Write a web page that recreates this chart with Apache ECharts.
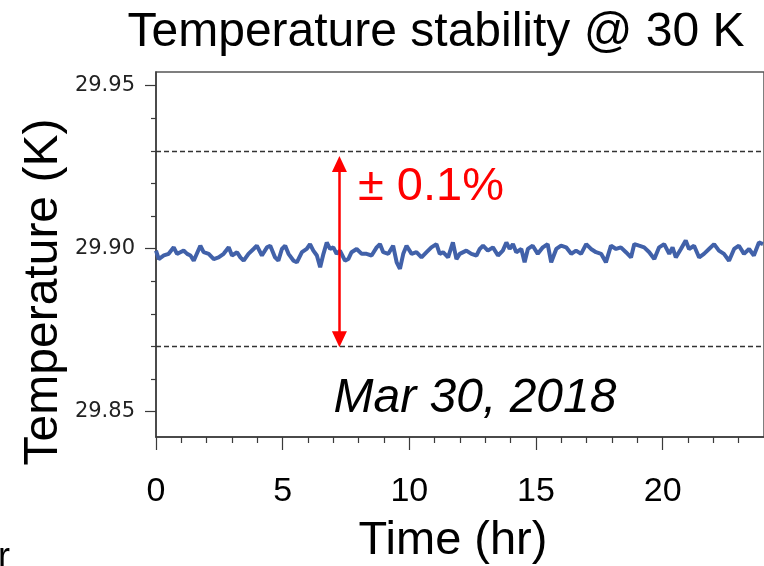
<!DOCTYPE html>
<html>
<head>
<meta charset="utf-8">
<script src="https://cdn.jsdelivr.net/npm/echarts@6/dist/echarts.min.js"></script>
<style>html,body{margin:0;padding:0;background:#fff;}#c{width:764px;height:566px;}</style>
</head>
<body>
<div id="c"></div>
<script>
// ---- data ----
const timesHr = [0.00,0.11,0.31,0.50,0.70,0.83,0.96,1.09,1.23,1.36,1.49,1.75,1.88,2.08,2.28,2.47,2.67,2.87,3.00,3.20,
  3.33,3.46,3.65,3.85,3.98,4.18,4.38,4.51,4.70,4.83,4.97,5.10,5.23,5.43,5.56,5.76,5.95,6.08,6.21,6.35,
  6.48,6.61,6.74,6.87,7.00,7.13,7.26,7.46,7.59,7.72,7.92,8.12,8.31,8.51,8.71,8.84,8.97,9.17,9.36,9.50,
  9.63,9.76,9.89,10.09,10.28,10.48,10.68,10.87,11.07,11.20,11.33,11.53,11.72,11.86,11.99,
  12.25,12.45,12.65,12.78,12.91,13.10,13.30,13.50,13.69,13.83,13.96,14.09,14.22,14.42,14.55,14.68,14.87,15.07,15.27,15.46,
  15.60,15.80,15.99,16.19,16.39,16.58,16.78,16.98,17.17,17.37,17.57,17.76,17.96,18.16,18.35,18.55,18.75,18.88,19.07,19.27,
  19.47,19.67,19.86,20.06,20.26,20.39,20.52,20.72,20.91,21.04,21.24,21.44,21.63,21.83,22.03,22.22,22.42,22.62,22.82,23.01,
  23.21,23.41,23.60,23.80,23.96];
const temperatureK = [29.8994,29.8968,29.8979,29.8984,29.9004,29.8984,29.8989,29.8994,29.8984,29.8979,
  29.8963,29.9009,29.8989,29.8984,29.8968,29.8973,29.8984,29.9004,29.8979,29.8989,
  29.8973,29.8963,29.8984,29.8999,29.9009,29.8979,29.9004,29.9009,29.8973,29.8963,
  29.8999,29.9009,29.8984,29.8963,29.8958,29.8989,29.8999,29.9014,29.8994,29.8979,
  29.8943,29.8984,29.9019,29.8999,29.9004,29.8984,29.8994,29.8963,29.8968,29.8989,
  29.8999,29.8984,29.8984,29.8979,29.9004,29.9014,29.8989,29.8984,29.9009,29.8958,
  29.8938,29.8984,29.9009,29.8984,29.8989,29.8973,29.8989,29.9004,29.9014,29.8984,
  29.8989,29.8973,29.9019,29.8968,29.8984,
  29.8994,29.8984,29.8979,29.8999,29.9009,29.8994,29.9004,29.8979,29.8994,29.9019,
  29.8999,29.9014,29.8989,29.8999,29.8958,29.8999,29.9009,29.8984,29.9004,29.9014,
  29.8958,29.8999,29.9009,29.9004,29.8984,29.8994,29.8984,29.9014,29.8999,29.8989,
  29.8984,29.8958,29.9009,29.8999,29.9004,29.8989,29.8973,29.9014,29.9009,29.9004,
  29.8989,29.8968,29.9004,29.9014,29.8984,29.9004,29.8973,29.8999,29.9025,29.8999,
  29.9009,29.8973,29.8984,29.8999,29.9014,29.8994,29.8984,29.8963,29.8999,29.9009,
  29.8984,29.8999,29.8979,29.9019,29.9014];
const xMajorTicks = [0,5,10,15,20];
const xMinorTicks = [1,2,3,4,6,7,8,9,11,12,13,14,16,17,18,19,21,22,23];
const yMajorTicks = [29.85,29.90,29.95];
const yMinorTicks = [29.86,29.87,29.88,29.89,29.91,29.92,29.93,29.94];
const xRange = [0,24];
const yRange = [29.8422,29.9542];
const bandLevels = [29.9287,29.8693];
const arrowTime = 7.24;
const arrowEnds = [29.9260,29.8722];
const titleText = 'Temperature stability @ 30 K';
const xName = 'Time (hr)';
const yName = 'Temperature (K)';
const bandText = '\u00b1 0.1%';
const dateText = 'Mar 30, 2018';

const chart = echarts.init(document.getElementById('c'), null, {renderer:'canvas'});
const axisColor = '#3a3a3a';
const seriesData = timesHr.map((t,i)=>[t, temperatureK[i]]);
const option = {
  animation:false,
  grid:{left:156, top:72, width:609, height:365, show:true, borderColor:'#555', borderWidth:1.5, backgroundColor:'transparent'},
  xAxis:[{
    type:'value', min:xRange[0], max:xRange[1], position:'bottom',
    axisLine:{show:true, onZero:false, lineStyle:{color:axisColor, width:1.5}},
    axisTick:{show:true, customValues:xMajorTicks, length:13, lineStyle:{color:axisColor, width:1.2}},
    axisLabel:{show:true, customValues:xMajorTicks, margin:38, fontFamily:'Liberation Sans', fontSize:34, color:'#000'},
    splitLine:{show:false}
  },{
    type:'value', min:xRange[0], max:xRange[1], position:'bottom', gridIndex:0,
    axisLine:{show:false},
    axisTick:{show:true, customValues:xMinorTicks, length:6, lineStyle:{color:axisColor, width:1.2}},
    axisLabel:{show:false},
    splitLine:{show:false}
  }],
  yAxis:[{
    type:'value', min:yRange[0], max:yRange[1], position:'left',
    axisLine:{show:true, onZero:false, lineStyle:{color:axisColor, width:1.5}},
    axisTick:{show:true, customValues:yMajorTicks, length:11, lineStyle:{color:axisColor, width:1.2}},
    axisLabel:{show:true, customValues:yMajorTicks, margin:21, fontFamily:'DejaVu Sans', fontSize:21, color:'#222',
      formatter:v=>Number(v).toFixed(2)},
    splitLine:{show:false}
  },{
    type:'value', min:yRange[0], max:yRange[1], position:'left',
    axisLine:{show:false},
    axisTick:{show:true, customValues:yMinorTicks, length:5, lineStyle:{color:axisColor, width:1.2}},
    axisLabel:{show:false},
    splitLine:{show:false}
  }],
  series:[{
    type:'line', data:seriesData, xAxisIndex:0, yAxisIndex:0,
    showSymbol:false, symbol:'none', clip:true,
    lineStyle:{color:'#4161a9', width:4},
    emphasis:{disabled:true},
    markLine:{
      silent:true, symbol:['none','none'], label:{show:false},
      emphasis:{disabled:true},
      data:[
        {yAxis:bandLevels[0], lineStyle:{color:'#333', width:1.3, type:[5,3]}},
        {yAxis:bandLevels[1], lineStyle:{color:'#333', width:1.3, type:[5,3]}},
        [
          {coord:[arrowTime, arrowEnds[0]], symbol:'triangle', symbolSize:[15,16], lineStyle:{color:'#ff0000', width:2.5, type:'solid'}, itemStyle:{color:'#ff0000'}},
          {coord:[arrowTime, arrowEnds[1]], symbol:'triangle', symbolSize:[15,16], itemStyle:{color:'#ff0000'}}
        ]
      ]
    }
  }],
  graphic:[
    {type:'text', x:436, y:33, style:{text:titleText, font:'48px "Liberation Sans"', fill:'#000', align:'center', verticalAlign:'middle'}},
    {type:'text', x:453, y:541, style:{text:xName, font:'47px "Liberation Sans"', fill:'#000', align:'center', verticalAlign:'middle'}},
    {type:'text', x:44, y:292, rotation:Math.PI/2, style:{text:yName, font:'48px "Liberation Sans"', fill:'#000', align:'center', verticalAlign:'middle'}},
    {type:'text', x:475, y:399, style:{text:dateText, font:'italic 48px "Liberation Sans"', fill:'#000', align:'center', verticalAlign:'middle'}},
    {type:'text', x:431, y:187, style:{text:bandText, font:'47px "Liberation Sans"', fill:'#ff0000', align:'center', verticalAlign:'middle'}},
    {type:'text', x:-2, y:558, style:{text:'r', font:'36px "Liberation Sans"', fill:'#000', align:'left', verticalAlign:'middle'}}
  ]
};
chart.setOption(option);
</script>
</body>
</html>
